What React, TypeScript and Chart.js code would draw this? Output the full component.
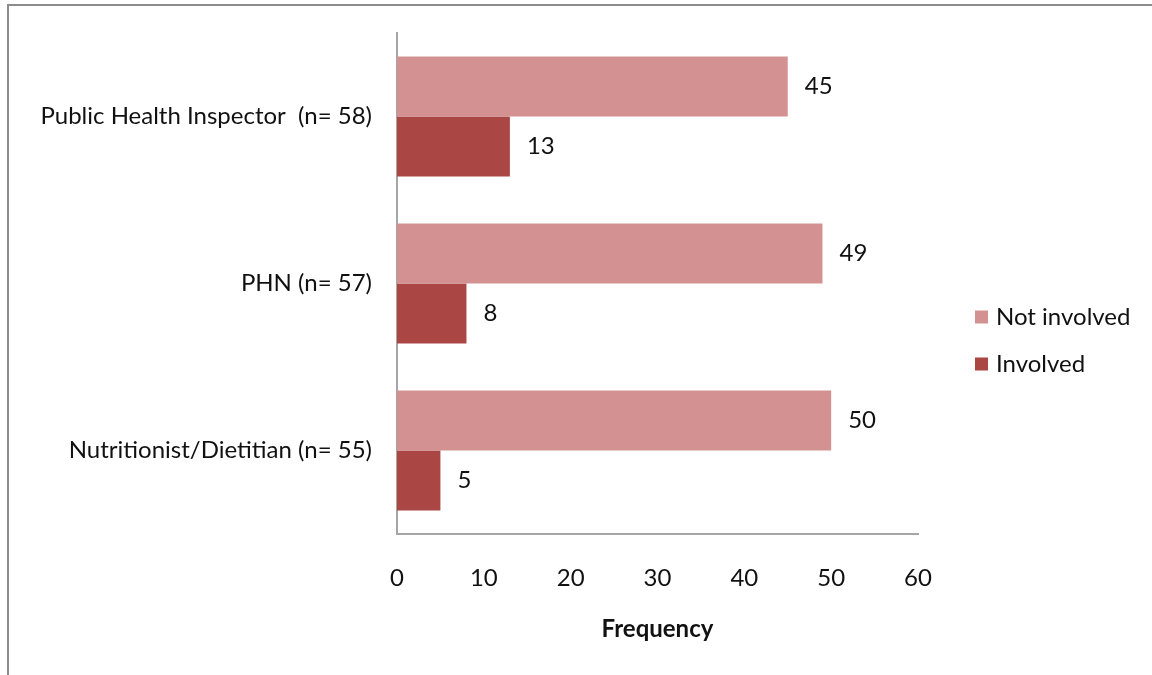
import React, { useEffect, useRef } from "react";
import { Chart, registerables } from "chart.js";

Chart.register(...registerables);

// Professions surveyed and how many were / were not involved
const categories = [
  "Public Health Inspector  (n= 58)",
  "PHN (n= 57)",
  "Nutritionist/Dietitian (n= 55)",
];
const notInvolved = [45, 49, 50];
const involved = [13, 8, 5];
const seriesNames = ["Not involved", "Involved"];
const seriesColors = ["#D39291", "#AA4644"];
const xTicks = [0, 10, 20, 30, 40, 50, 60];
const axisTitle = "Frequency";

const FONT_FAMILY = "Lato, 'Open Sans', sans-serif";
const FONT_SIZE = 24;
const TEXT_COLOR = "#111111";

// Writes each bar's value just past its end
const valueLabels = {
  id: "valueLabels",
  afterDatasetsDraw(chart: any) {
    const ctx = chart.ctx;
    ctx.save();
    ctx.font = `${FONT_SIZE}px ${FONT_FAMILY}`;
    ctx.fillStyle = TEXT_COLOR;
    ctx.textAlign = "left";
    ctx.textBaseline = "middle";
    chart.data.datasets.forEach((ds: any, di: number) => {
      const meta = chart.getDatasetMeta(di);
      meta.data.forEach((el: any, i: number) => {
        ctx.fillText(String(ds.data[i]), el.x + 17, el.y);
      });
    });
    ctx.restore();
  },
};

// Vertical legend to the right of the plot
const sideLegend = {
  id: "sideLegend",
  afterDraw(chart: any) {
    const ctx = chart.ctx;
    const area = chart.chartArea;
    const boxX = area.right + 57;
    const textX = boxX + 21;
    const firstY = 317;
    const gap = 47;
    ctx.save();
    ctx.font = `${FONT_SIZE}px ${FONT_FAMILY}`;
    ctx.textAlign = "left";
    ctx.textBaseline = "middle";
    chart.data.datasets.forEach((ds: any, i: number) => {
      const y = firstY + i * gap;
      ctx.fillStyle = ds.backgroundColor;
      ctx.fillRect(boxX, y - 6.5, 13, 13);
      ctx.fillStyle = TEXT_COLOR;
      ctx.fillText(ds.label, textX, y);
    });
    ctx.restore();
  },
};

export default function App() {
  const canvasRef = useRef<HTMLCanvasElement | null>(null);

  useEffect(() => {
    const canvas = canvasRef.current;
    if (!canvas) return;
    const font = { family: FONT_FAMILY, size: FONT_SIZE };
    const chart = new Chart(canvas, {
      type: "bar",
      data: {
        labels: categories,
        datasets: [
          {
            label: seriesNames[0],
            data: notInvolved,
            backgroundColor: seriesColors[0],
            categoryPercentage: 0.72,
            barPercentage: 1.0,
          },
          {
            label: seriesNames[1],
            data: involved,
            backgroundColor: seriesColors[1],
            categoryPercentage: 0.72,
            barPercentage: 1.0,
          },
        ],
      },
      options: {
        indexAxis: "y",
        responsive: false,
        animation: false,
        layout: { padding: { left: 0, top: 33, right: 234, bottom: 0 } },
        plugins: {
          legend: { display: false },
          tooltip: { enabled: false },
        },
        scales: {
          x: {
            min: xTicks[0],
            max: xTicks[xTicks.length - 1],
            afterBuildTicks: (scale: any) => {
              scale.ticks = xTicks.map((v) => ({ value: v }));
            },
            grid: { display: false, drawTicks: false },
            border: { display: true, color: "#A6A6A6", width: 2 },
            ticks: { font, color: TEXT_COLOR, padding: 30, maxRotation: 0 },
            title: {
              display: true,
              text: axisTitle,
              color: TEXT_COLOR,
              font: { family: FONT_FAMILY, size: FONT_SIZE, weight: "bold" },
              padding: { top: 0, bottom: 31 },
            },
            afterFit: (scale: any) => {
              scale.height = 141;
            },
          },
          y: {
            grid: { display: false, drawTicks: false },
            border: { display: true, color: "#A6A6A6", width: 2 },
            ticks: { font, color: TEXT_COLOR, padding: 25 },
            afterFit: (scale: any) => {
              scale.width = 397;
              // keep the plot's top/bottom edges where the layout padding puts them
              scale.paddingTop = 0;
              scale.paddingBottom = 0;
            },
          },
        },
      },
      plugins: [valueLabels, sideLegend],
    } as any);
    return () => chart.destroy();
  }, []);

  return (
    <div
      style={{
        position: "absolute",
        left: 0,
        top: 0,
        width: 1152,
        height: 675,
        overflow: "hidden",
        background: "#ffffff",
      }}
    >
      <div
        style={{
          position: "absolute",
          left: 7,
          top: 4,
          width: 1200,
          height: 720,
          borderTop: "2px solid #8C8C8C",
          borderLeft: "2px solid #8C8C8C",
        }}
      />
      <canvas
        ref={canvasRef}
        width={1152}
        height={675}
        style={{ position: "absolute", left: 0, top: 0 }}
      />
    </div>
  );
}
